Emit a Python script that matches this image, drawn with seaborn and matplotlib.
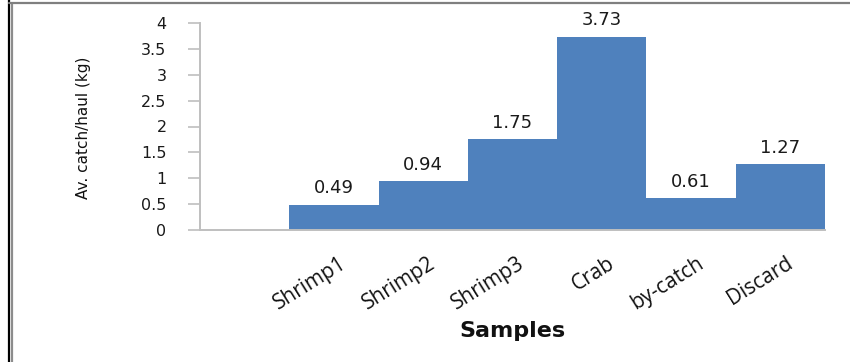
import matplotlib
matplotlib.use("Agg")
import matplotlib.pyplot as plt
import matplotlib.transforms as mtransforms
from matplotlib.lines import Line2D
import seaborn as sns
import pandas as pd

# Average catch per haul for each sample group
samples = ["Shrimp1", "Shrimp2", "Shrimp3", "Crab", "by-catch", "Discard"]
catch_kg = [0.49, 0.94, 1.75, 3.73, 0.61, 1.27]
# category slots on the x axis, with a leading empty slot
slots = [""] + samples
y_ticks = [0, 0.5, 1, 1.5, 2, 2.5, 3, 3.5, 4]
y_tick_labels = ["0", "0.5", "1", "1.5", "2", "2.5", "3", "3.5", "4"]

sns.set_theme(style="white")
plt.rcParams["font.family"] = ["DejaVu Sans"]

W, H = 850, 362
fig = plt.figure(figsize=(W / 100, H / 100), dpi=100)
ax = fig.add_axes([200 / W, 1 - 230 / H, 625 / W, 207 / H])

df = pd.DataFrame({"Samples": samples, "catch": catch_kg})
sns.barplot(data=df, x="Samples", y="catch", order=slots, color="#4F81BD",
            saturation=1, width=1.0, linewidth=0, errorbar=None, ax=ax)

ax.set_xlim(-0.5, len(slots) - 0.5)
ax.set_ylim(0, 4)

# value labels above the bars
for cont in ax.containers:
    ax.bar_label(cont, fmt="%.2f", padding=5.5, fontsize=13, color="#1a1a1a")

# axes styling
for side in ("top", "right"):
    ax.spines[side].set_visible(False)
for side in ("left", "bottom"):
    ax.spines[side].set_color("#BFBFBF")
    ax.spines[side].set_linewidth(1.4)

ax.set_yticks(y_ticks)
ax.set_yticklabels(y_tick_labels, fontsize=11.5, color="#1a1a1a")
ax.tick_params(axis="y", direction="out", length=8.6, width=1.2,
               color="#BFBFBF", pad=15.5, left=True)

ax.set_xticks(range(len(slots)))
ax.set_xticklabels(slots, rotation=32, ha="right", va="top",
                   rotation_mode="anchor", fontsize=15,
                   family=["Open Sans", "DejaVu Sans"], color="#111111")
ax.tick_params(axis="x", length=0, pad=16.5)
shift = mtransforms.ScaledTranslation(0.05, 0, fig.dpi_scale_trans)
for lbl in ax.get_xticklabels():
    lbl.set_transform(lbl.get_transform() + shift)

ax.set_ylabel("Av. catch/haul (kg)", fontsize=11, color="#111111")
ax.yaxis.set_label_coords(-0.175, 0.493)
ax.set_xlabel("Samples", fontsize=16, fontweight="bold", color="#111111")
ax.xaxis.set_label_coords(0.5, -0.44)

# outer chart frame: dark left edge and grey top edge
fig.add_artist(Line2D([9 / W, 9 / W], [0, 1], color="black", linewidth=1.6,
                      transform=fig.transFigure))
fig.add_artist(Line2D([11.5 / W, 11.5 / W], [0, 1 - 4 / H], color="#8c8c8c",
                      linewidth=1.6, transform=fig.transFigure))
fig.add_artist(Line2D([9 / W, 1], [1 - 3 / H, 1 - 3 / H], color="#7f7f7f",
                      linewidth=1.6, transform=fig.transFigure))

fig.savefig("out.png", dpi=100, facecolor="white")
